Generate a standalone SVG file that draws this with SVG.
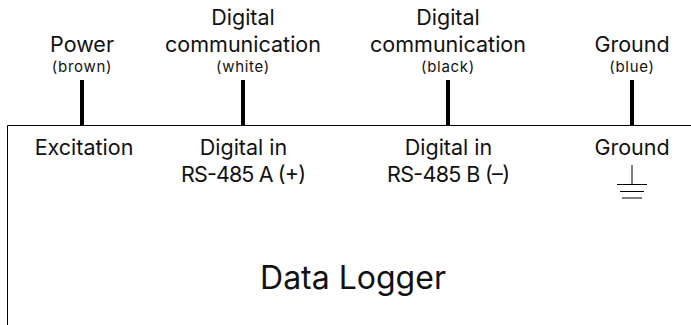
<svg xmlns="http://www.w3.org/2000/svg" width="691" height="325" viewBox="0 0 691 325">
<style>
text{font-family:"Inter","Liberation Sans",sans-serif;fill:#111;text-anchor:middle}
.m{font-size:21.500px}.s{font-size:15px;letter-spacing:.7px}.t{font-size:32px}
.w{stroke:#000;stroke-width:4;fill:none}
.b{stroke:#000;stroke-width:1;fill:none}
</style>
<rect width="691" height="325" fill="#fff"/>
<g id="connectors">
<path class="w" d="M82 80V125"/><path class="w" d="M243 80V125"/><path class="w" d="M448 80V125"/><path class="w" d="M632 80V125"/>
</g>
<g id="logger">
<path class="b" d="M691 125.500H7.500V325"/>
<text class="t" x="353" y="289">Data Logger</text>
</g>
<g id="power"><text class="m" x="82" y="52">Power</text><text class="s" x="82" y="72">(brown)</text></g>
<g id="white"><text class="m" x="243" y="25">Digital</text><text class="m" x="243" y="52">communication</text><text class="s" x="243" y="72">(white)</text></g>
<g id="black"><text class="m" x="448" y="25">Digital</text><text class="m" x="448" y="52">communication</text><text class="s" x="448" y="72">(black)</text></g>
<g id="ground"><text class="m" x="632" y="52">Ground</text><text class="s" x="632" y="72">(blue)</text></g>
<g id="excitation"><text class="m" x="84" y="155">Excitation</text></g>
<g id="in-a"><text class="m" x="243.500" y="155">Digital in</text><text class="m" x="243.500" y="181.500" textLength="125">RS-485 A (+)</text></g>
<g id="in-b"><text class="m" x="448.500" y="155">Digital in</text><text class="m" x="448.500" y="181.500" textLength="123">RS-485 B (–)</text></g>
<g id="gnd"><text class="m" x="632" y="155">Ground</text>
<path class="b" d="M632 165V184M617 184.500H647M620 191.500H644M622 198H642"/></g>
</svg>
